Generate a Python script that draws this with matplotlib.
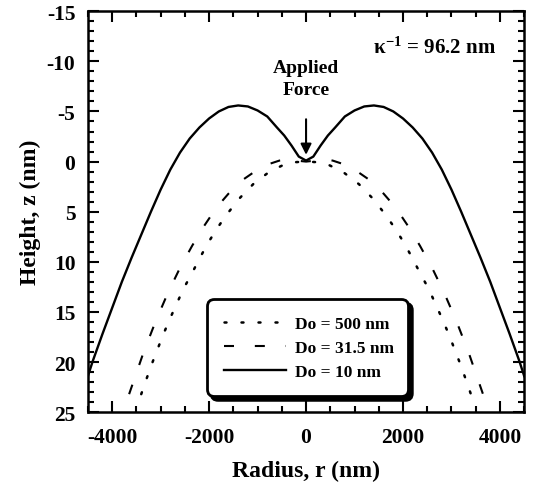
import numpy as np
import matplotlib
matplotlib.use("Agg")
import matplotlib.pyplot as plt
from matplotlib.ticker import MultipleLocator

plt.rcParams['font.family'] = ['Liberation Serif', 'DejaVu Serif']
plt.rcParams['font.weight'] = 'bold'
plt.rcParams['axes.unicode_minus'] = False
plt.rcParams['mathtext.fontset'] = 'custom'
plt.rcParams['mathtext.rm'] = 'Liberation Serif:bold'
plt.rcParams['mathtext.it'] = 'Liberation Serif:bold'
plt.rcParams['mathtext.bf'] = 'Liberation Serif:bold'

# ---- data (half profiles, r >= 0; curves are symmetric) ----
r_10 = [0, 150, 300, 450, 600, 800, 1000, 1200, 1400, 1600, 1800, 2000, 2200,
        2400, 2600, 2800, 3000, 3200, 3400, 3600, 3800, 4000, 4200, 4400, 4500]
z_10 = [-0.1, -0.5, -1.6, -2.6, -3.4, -4.5, -5.1, -5.5, -5.6, -5.45, -5.0, -4.3, -3.4,
        -2.3, -0.9, 0.8, 2.8, 5.0, 7.3, 9.6, 12.0, 14.6, 17.2, 19.9, 21.4]

r_315 = [0, 200, 400, 550, 800, 1000, 1300, 1600, 1850, 2100, 2350, 2600,
         2850, 3100, 3350, 3650]
z_315 = [0.0, -0.1, -0.2, -0.1, 0.3, 0.8, 1.8, 3.2, 4.6, 6.4, 8.4, 10.6,
         13.1, 15.9, 19.0, 23.2]

r_500 = [0, 200, 434, 600, 780, 1090, 1360, 1640, 1840, 2020, 2190, 2360, 2530,
         2670, 2810, 2950, 3070, 3190, 3300, 3400]
z_500 = [0.0, 0.05, 0.25, 0.65, 1.1, 2.25, 3.6, 5.3, 6.7, 8.1, 9.6, 11.2, 12.7,
         14.2, 15.7, 17.3, 18.8, 20.3, 21.8, 23.2]

labels = ["Do = 500 nm", "Do = 31.5 nm", "Do = 10 nm"]
xticks = [-4000, -2000, 0, 2000, 4000]
yticks = [-15, -10, -5, 0, 5, 10, 15, 20, 25]


def mirror(r, z):
    r = np.asarray(r, float)
    z = np.asarray(z, float)
    return np.concatenate([-r[::-1], r[1:]]), np.concatenate([z[::-1], z[1:]])


fig = plt.figure(figsize=(5.36, 4.89), dpi=100)
ax = fig.add_axes([0.164, 0.155, 0.814, 0.820])

x, y = mirror(r_500, z_500)
ax.plot(x, y, color='k', lw=1.8, linestyle=(0, (0.8, 6.0)), dash_capstyle='round',
        label=labels[0])
x, y = mirror(r_315, z_315)
ax.plot(x, y, color='k', lw=1.5, linestyle=(0, (4.8, 10.0)), label=labels[1])
x, y = mirror(r_10, z_10)
ax.plot(x, y, color='k', lw=1.7, linestyle='-', label=labels[2])

ax.set_xlim(-4500, 4500)
ax.set_ylim(25, -15)
ax.set_xticks(xticks)
ax.set_yticks(yticks)
ax.xaxis.set_minor_locator(MultipleLocator(500))
ax.yaxis.set_minor_locator(MultipleLocator(1))
ax.tick_params(which='both', direction='in', top=True, right=True, width=1.5)
ax.tick_params(which='major', length=8, labelsize=15.5)
ax.tick_params(axis='x', which='major', pad=11)
ax.tick_params(axis='y', which='major', pad=9)
ax.tick_params(which='minor', length=4.5)
for lab in ax.get_xticklabels() + ax.get_yticklabels():
    lab.set_fontweight('bold')
for s in ax.spines.values():
    s.set_linewidth(1.8)

ax.set_xlabel("Radius, r (nm)", fontsize=17, fontweight='bold', labelpad=9)
ax.set_ylabel("Height, z (nm)", fontsize=17, fontweight='bold', labelpad=4)

ax.annotate('', xy=(0, -0.4), xytext=(0, -4.5),
            arrowprops=dict(arrowstyle='-|>', lw=1.5, color='k', mutation_scale=16))
ax.text(0, -8.3, "Applied\nForce", ha='center', va='center', fontsize=14,
        fontweight='bold', linespacing=1.35)
ax.text(0.936, 0.91, r"$\kappa^{-1}$ = 96.2 nm", transform=ax.transAxes,
        ha='right', va='center', fontsize=15, fontweight='bold')

leg = ax.legend(loc='upper left', bbox_to_anchor=(0.273, 0.0, 0.461, 0.282),
                mode='expand', borderaxespad=0, fontsize=12.5, handlelength=3.6,
                handletextpad=0.5, labelspacing=0.45, borderpad=0.95,
                fancybox=True, framealpha=1,
                shadow={'ox': 3, 'oy': -3, 'color': 'k', 'alpha': 1})
leg.get_frame().set_edgecolor('k')
leg.get_frame().set_linewidth(2.0)
leg.get_frame().set_boxstyle('round', pad=0, rounding_size=0.4)
for t in leg.get_texts():
    t.set_fontweight('bold')

fig.savefig("out.png", dpi=100)
